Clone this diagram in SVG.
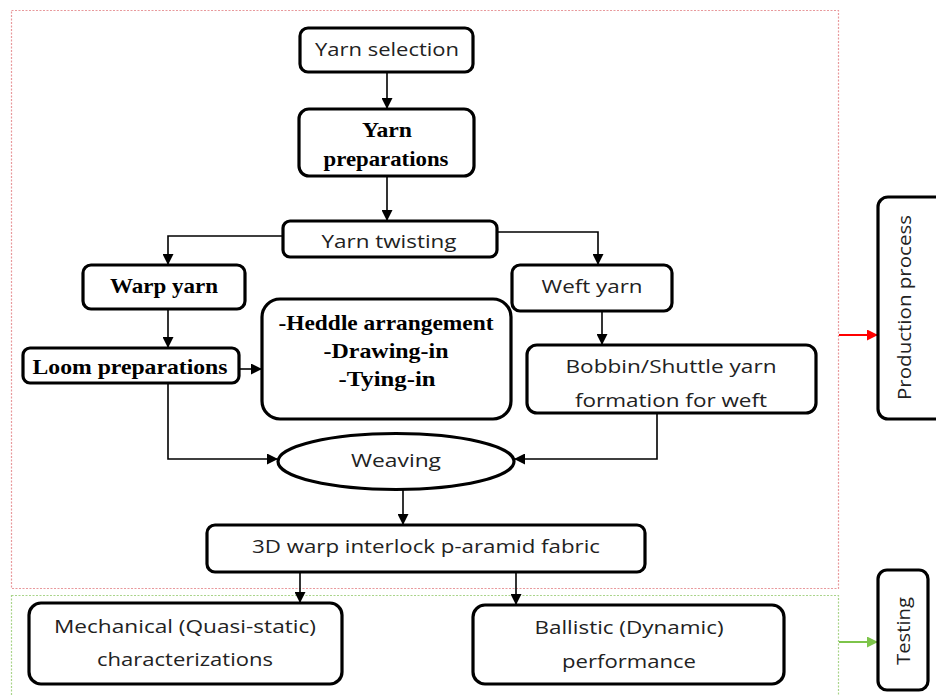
<svg xmlns="http://www.w3.org/2000/svg" width="936" height="695" viewBox="0 0 936 695">
<style>
.box{fill:#fff;stroke:#000;stroke-width:3.2}
.sans{font-family:"Open Sans","Liberation Sans",sans-serif;font-size:19px;fill:#222;text-anchor:middle}
.serif{font-family:"Liberation Serif","Times New Roman",serif;font-size:21px;font-weight:bold;fill:#000;text-anchor:middle}
.conn{fill:none;stroke:#000;stroke-width:1.6}
</style>
<defs>
<marker id="ah" markerUnits="userSpaceOnUse" markerWidth="11" markerHeight="11" refX="10" refY="5.5" orient="auto"><path d="M0,0 L11,5.5 L0,11 z" fill="#000"/></marker>
<marker id="ahr" markerUnits="userSpaceOnUse" markerWidth="11" markerHeight="11" refX="10" refY="5.5" orient="auto"><path d="M0,0 L11,5.5 L0,11 z" fill="#f00"/></marker>
<marker id="ahg" markerUnits="userSpaceOnUse" markerWidth="11" markerHeight="11" refX="10" refY="5.5" orient="auto"><path d="M0,0 L11,5.5 L0,11 z" fill="#7dc44a"/></marker>
</defs>
<rect x="0" y="0" width="936" height="695" fill="#fff"/>
<g id="regions">
<rect x="11.5" y="10.5" width="827" height="578" fill="none" stroke="#e8999c" stroke-width="1.2" stroke-dasharray="2,1.5"/>
<rect x="11.5" y="595.5" width="827" height="110" fill="none" stroke="#a9d48a" stroke-width="1.2" stroke-dasharray="2,1.5"/>
</g>
<g id="connectors">
<path class="conn" d="M387,73 V108" marker-end="url(#ah)"/>
<path class="conn" d="M387,176 V220" marker-end="url(#ah)"/>
<path class="conn" d="M283,236 H168 V264" marker-end="url(#ah)"/>
<path class="conn" d="M497,232 H598 V264" marker-end="url(#ah)"/>
<path class="conn" d="M168,309 V347" marker-end="url(#ah)"/>
<path class="conn" d="M239,369 H261" marker-end="url(#ah)"/>
<path class="conn" d="M168,383 V459 H277" marker-end="url(#ah)"/>
<path class="conn" d="M602,311 V344" marker-end="url(#ah)"/>
<path class="conn" d="M657,413 V459 H515" marker-end="url(#ah)"/>
<path class="conn" d="M403,490 V524" marker-end="url(#ah)"/>
<path class="conn" d="M300,572 V602" marker-end="url(#ah)"/>
<path class="conn" d="M516,572 V604" marker-end="url(#ah)"/>
<path d="M839,335 H877" fill="none" stroke="#f00" stroke-width="1.8" marker-end="url(#ahr)"/>
<path d="M839,642 H877" fill="none" stroke="#7dc44a" stroke-width="1.8" marker-end="url(#ahg)"/>
</g>
<g id="yarn-selection">
<rect class="box" x="300" y="28" width="173" height="44" rx="8"/>
<text class="sans" x="387" y="56" textLength="144" lengthAdjust="spacingAndGlyphs">Yarn selection</text>
</g>
<g id="yarn-preparations">
<rect class="box" x="299" y="109" width="175" height="67" rx="10"/>
<text class="serif" x="387" y="137" textLength="50" lengthAdjust="spacingAndGlyphs">Yarn</text>
<text class="serif" x="386" y="166" textLength="125" lengthAdjust="spacingAndGlyphs">preparations</text>
</g>
<g id="yarn-twisting">
<rect class="box" x="283" y="221" width="214" height="36" rx="7"/>
<text class="sans" x="389" y="248" textLength="135" lengthAdjust="spacingAndGlyphs">Yarn twisting</text>
</g>
<g id="warp-yarn">
<rect class="box" x="83" y="265" width="162" height="44" rx="8"/>
<text class="serif" x="164" y="293" textLength="108" lengthAdjust="spacingAndGlyphs">Warp yarn</text>
</g>
<g id="weft-yarn">
<rect class="box" x="512" y="265" width="160" height="46" rx="8"/>
<text class="sans" x="592" y="293" textLength="101" lengthAdjust="spacingAndGlyphs">Weft yarn</text>
</g>
<g id="loom-preparations">
<rect class="box" x="23" y="348" width="216" height="35" rx="7"/>
<text class="serif" x="130" y="374" textLength="195" lengthAdjust="spacingAndGlyphs">Loom preparations</text>
</g>
<g id="heddle">
<rect class="box" x="262" y="299" width="249" height="120" rx="18"/>
<text class="serif" x="386" y="330" textLength="215" lengthAdjust="spacingAndGlyphs">-Heddle arrangement</text>
<text class="serif" x="386" y="358" textLength="125" lengthAdjust="spacingAndGlyphs">-Drawing-in</text>
<text class="serif" x="387" y="386" textLength="97" lengthAdjust="spacingAndGlyphs">-Tying-in</text>
</g>
<g id="bobbin">
<rect class="box" x="527" y="345" width="289" height="68" rx="10"/>
<text class="sans" x="671" y="373" textLength="211" lengthAdjust="spacingAndGlyphs">Bobbin/Shuttle yarn</text>
<text class="sans" x="671" y="407" textLength="192" lengthAdjust="spacingAndGlyphs">formation for weft</text>
</g>
<g id="weaving">
<ellipse class="box" cx="396" cy="461.5" rx="118" ry="28"/>
<text class="sans" x="396" y="467" textLength="90" lengthAdjust="spacingAndGlyphs">Weaving</text>
</g>
<g id="fabric">
<rect class="box" x="207" y="525" width="438" height="47" rx="8"/>
<text class="sans" x="426" y="553" textLength="348" lengthAdjust="spacingAndGlyphs">3D warp interlock p-aramid fabric</text>
</g>
<g id="mechanical">
<rect class="box" x="29" y="603" width="313" height="81" rx="12"/>
<text class="sans" x="185" y="633" textLength="262" lengthAdjust="spacingAndGlyphs">Mechanical (Quasi-static)</text>
<text class="sans" x="185" y="666" textLength="176" lengthAdjust="spacingAndGlyphs">characterizations</text>
</g>
<g id="ballistic">
<rect class="box" x="473" y="605" width="311" height="79" rx="12"/>
<text class="sans" x="629" y="634" textLength="189" lengthAdjust="spacingAndGlyphs">Ballistic (Dynamic)</text>
<text class="sans" x="629" y="668" textLength="134" lengthAdjust="spacingAndGlyphs">performance</text>
</g>
<g id="production-process">
<rect class="box" x="878" y="197" width="75" height="222" rx="10"/>
<text class="sans" transform="translate(911,307.5) rotate(-90)" x="0" y="0" textLength="185" lengthAdjust="spacingAndGlyphs">Production process</text>
</g>
<g id="testing">
<rect class="box" x="878" y="570" width="50" height="120" rx="9"/>
<text class="sans" transform="translate(910,631) rotate(-90)" x="0" y="0" textLength="68" lengthAdjust="spacingAndGlyphs">Testing</text>
</g>
</svg>
